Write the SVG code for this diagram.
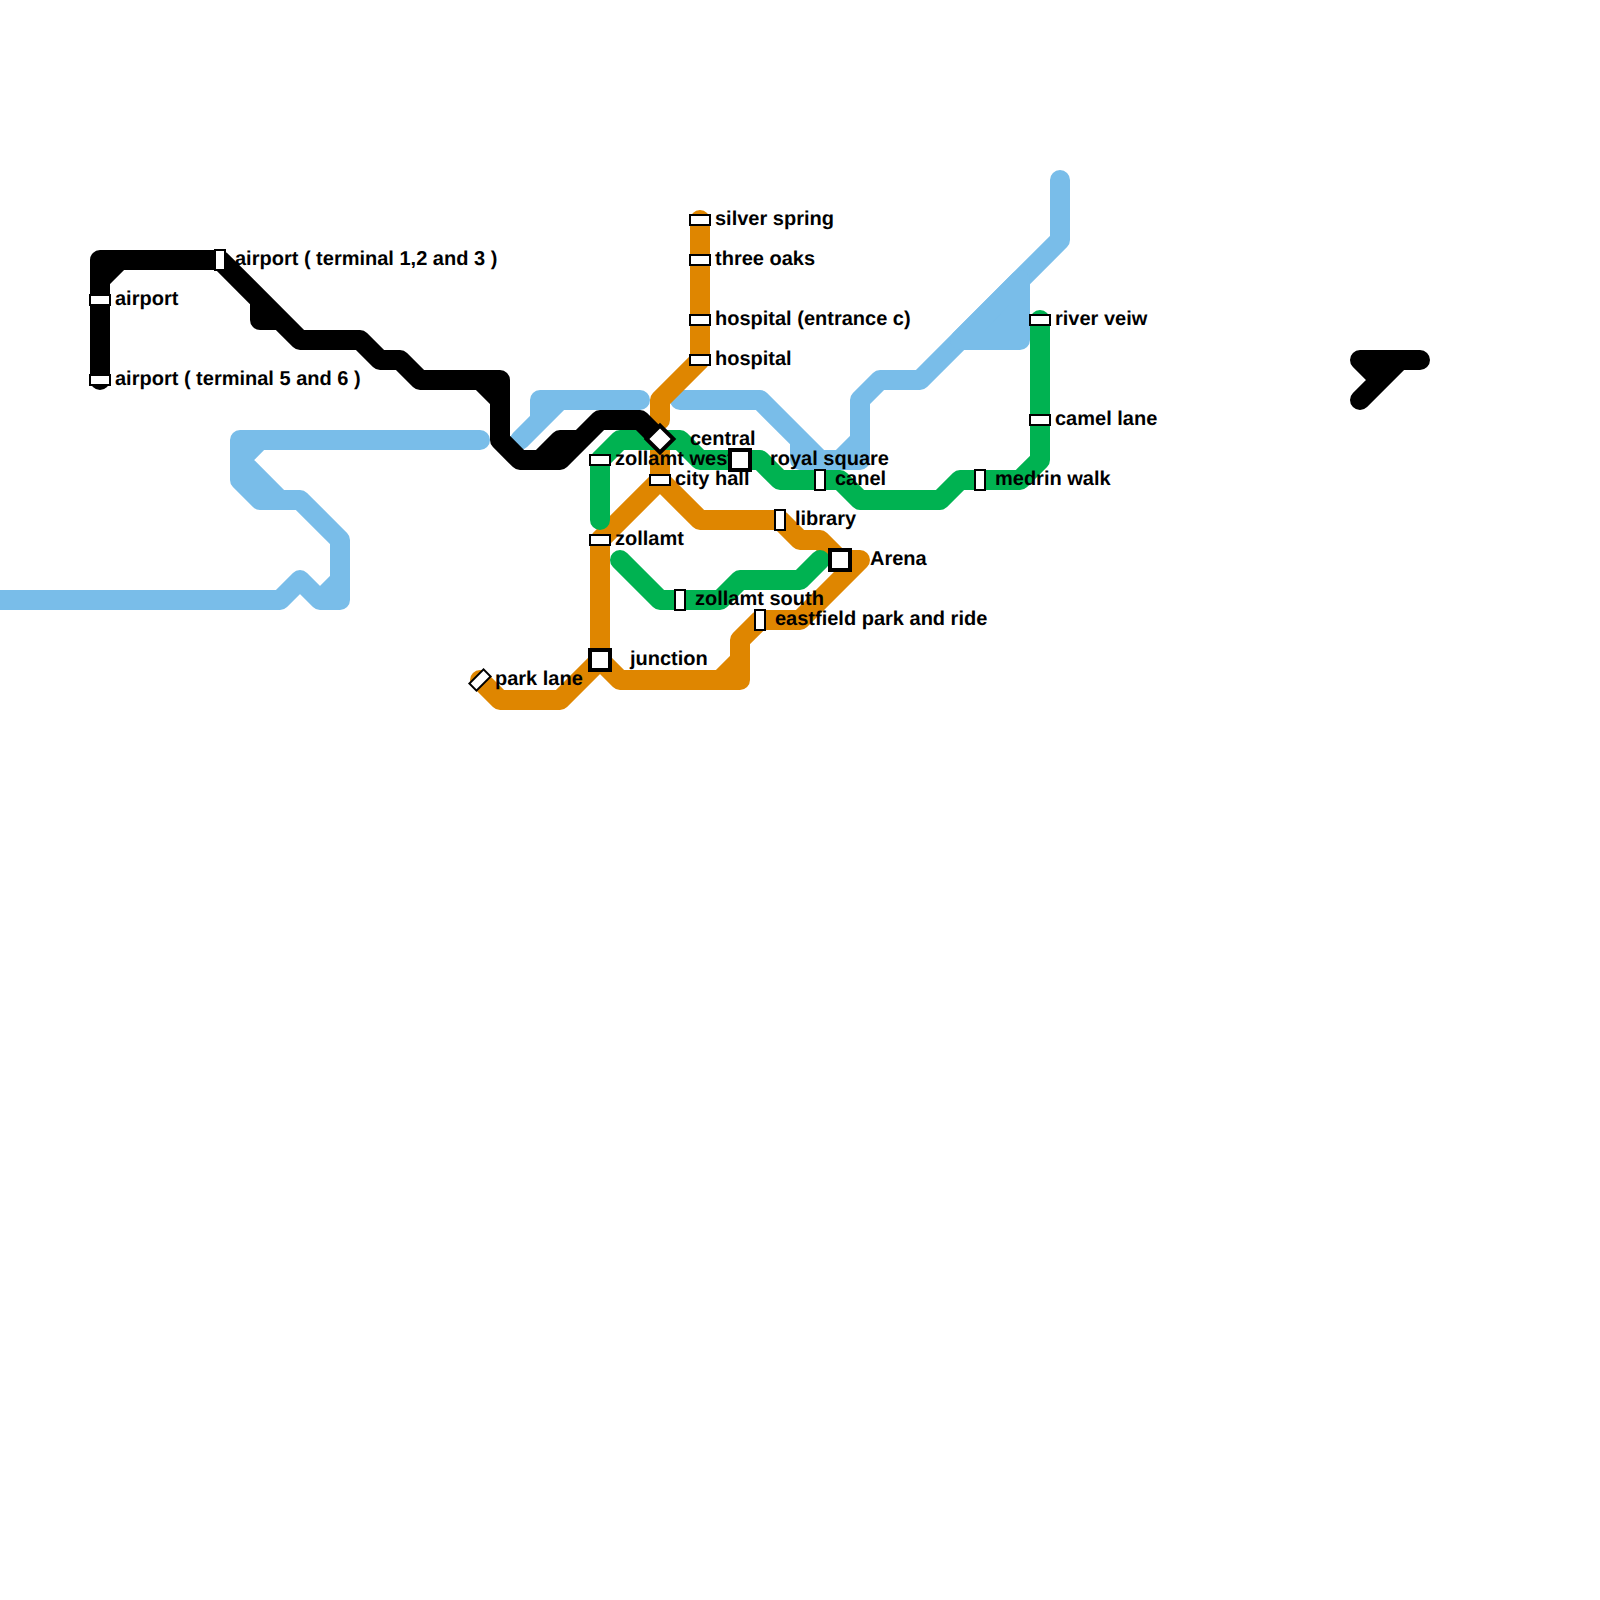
<svg xmlns="http://www.w3.org/2000/svg" width="1600" height="1600" viewBox="0 0 1600 1600">
<style>
.l{fill:none;stroke-width:20;stroke-linecap:round;stroke-linejoin:round}
.k{stroke:#000}.b{stroke:#79bde9}.o{stroke:#df8600}.g{stroke:#00b251}
.s{fill:#fff;stroke:#000;stroke-width:2}
.x{fill:#fff;stroke:#000;stroke-width:4}
text{font-family:"Liberation Sans",Arial,sans-serif;font-weight:700;font-size:20px;fill:#000;text-rendering:geometricPrecision}
</style>
<rect width="1600" height="1600" fill="#fff"/>
<g id="connectors">
<path class="l b" d="M0 600H280L300 580L320 600H340V540L300 500H260L240 480V440H480M260 440L240 460L280 500M320 600L340 580"/>
<path class="l b" d="M640 400H540V420L520 440M560 400L520 440"/>
<path class="l b" d="M680 400H760L820 460M800 440V460H860V400L880 380H920L1060 240V180M840 460L860 440"/>
<path class="l b" d="M960 340H1020V280Z" style="fill:#79bde9"/>
<path class="l o" d="M700 220V360L660 400V420"/>
<path class="l o" d="M660 440V480L600 540V660L560 700H500L480 680"/>
<path class="l o" d="M660 480L700 520H780L800 540H820L840 560H860L800 620H760L740 640V680H620L600 660M720 680L740 660"/>
<path class="l g" d="M600 520V460L620 440H680L700 460H760L780 480H840L860 500H940L960 480H1020L1040 460V320"/>
<path class="l g" d="M620 560L660 600H720L740 580H800L820 560"/>
<path class="l k" d="M100 380V260H220L300 340H360L380 360H400L420 380H500V440L520 460H560L600 420H640L660 440M100 280L120 260M260 300V320H280M480 380L500 400M540 460L560 440H580"/>
<path class="l k" d="M1360 360H1420M1360 400L1400 360M1360 360L1380 380"/>
</g>
<g id="n-airport-t12"><text x="235" y="265">airport ( terminal 1,2 and 3 )</text><rect class="s" x="215" y="250" width="10" height="20"/></g>
<g id="n-airport"><rect class="s" x="90" y="295" width="20" height="10"/><text x="115" y="305">airport</text></g>
<g id="n-airport-t56"><rect class="s" x="90" y="375" width="20" height="10"/><text x="115" y="385">airport ( terminal 5 and 6 )</text></g>
<g id="n-silver-spring"><rect class="s" x="690" y="215" width="20" height="10"/><text x="715" y="225">silver spring</text></g>
<g id="n-three-oaks"><rect class="s" x="690" y="255" width="20" height="10"/><text x="715" y="265">three oaks</text></g>
<g id="n-hospital-c"><rect class="s" x="690" y="315" width="20" height="10"/><text x="715" y="325">hospital (entrance c)</text></g>
<g id="n-hospital"><rect class="s" x="690" y="355" width="20" height="10"/><text x="715" y="365">hospital</text></g>
<g id="n-central"><rect class="x" x="-9.500" y="-9.500" width="19" height="19" transform="translate(660 439) rotate(45)"/><text x="690" y="445">central</text></g>
<g id="n-zollamt-west"><rect class="s" x="590" y="455" width="20" height="10"/><text x="615" y="465">zollamt west</text></g>
<g id="n-city-hall"><rect class="s" x="650" y="475" width="20" height="10"/><text x="675" y="485">city hall</text></g>
<g id="n-zollamt"><rect class="s" x="590" y="535" width="20" height="10"/><text x="615" y="545">zollamt</text></g>
<g id="n-royal-square"><rect class="x" x="730" y="450" width="20" height="20"/><text x="770" y="465">royal square</text></g>
<g id="n-canel"><rect class="s" x="815" y="470" width="10" height="20"/><text x="835" y="485">canel</text></g>
<g id="n-library"><rect class="s" x="775" y="510" width="10" height="20"/><text x="795" y="525">library</text></g>
<g id="n-arena"><rect class="x" x="830" y="550" width="20" height="20"/><text x="870" y="565">Arena</text></g>
<g id="n-zollamt-south"><rect class="s" x="675" y="590" width="10" height="20"/><text x="695" y="605">zollamt south</text></g>
<g id="n-eastfield"><rect class="s" x="755" y="610" width="10" height="20"/><text x="775" y="625">eastfield park and ride</text></g>
<g id="n-junction"><rect class="x" x="590" y="650" width="20" height="20"/><text x="630" y="665">junction</text></g>
<g id="n-park-lane"><rect class="s" x="-10" y="-5" width="20" height="10" transform="translate(480 680) rotate(-45)"/><text x="495" y="685">park lane</text></g>
<g id="n-river-veiw"><rect class="s" x="1030" y="315" width="20" height="10"/><text x="1055" y="325">river veiw</text></g>
<g id="n-camel-lane"><rect class="s" x="1030" y="415" width="20" height="10"/><text x="1055" y="425">camel lane</text></g>
<g id="n-medrin-walk"><rect class="s" x="975" y="470" width="10" height="20"/><text x="995" y="485">medrin walk</text></g>
</svg>
